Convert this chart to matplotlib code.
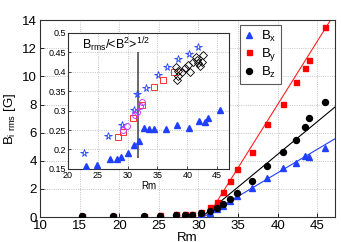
import numpy as np
import matplotlib
matplotlib.use("Agg")
import matplotlib.pyplot as plt
from matplotlib.ticker import FormatStrFormatter

plt.rcParams['font.family'] = ['Liberation Sans', 'DejaVu Sans']
plt.rcParams['mathtext.fontset'] = 'custom'
plt.rcParams['mathtext.rm'] = 'Liberation Sans'

# ---- main panel data ----
rm = [15.3, 19.2, 23.1, 25.1, 27.2, 28.3, 29.2, 30.3, 31.4, 32.3,
      33.1, 34.0, 34.9, 36.7, 38.6, 40.7, 42.3, 43.4, 43.9, 45.9]
bx = [0.03, 0.03, 0.05, 0.06, 0.10, 0.10, 0.12, 0.15, 0.30, 0.55,
      0.80, 1.12, 1.50, 2.05, 2.78, 3.52, 3.81, 4.34, 4.28, 4.93]
by = [0.05, 0.05, 0.10, 0.12, 0.20, 0.20, 0.24, 0.38, 0.70, 1.07,
      1.78, 2.53, 3.43, 4.64, 6.63, 8.03, 9.62, 10.60, 11.16, 13.50]
bz = [0.05, 0.05, 0.08, 0.10, 0.15, 0.15, 0.18, 0.26, 0.43, 0.62,
      0.90, 1.30, 1.73, 2.58, 3.60, 4.62, 5.48, 6.37, 7.04, 8.15]
# linear fits: onset Rm and slope
fit_onset = {'x': 30.6, 'y': 31.1, 'z': 30.4}
fit_slope = {'x': 0.335, 'y': 0.90, 'z': 0.465}

# ---- inset data ----
ins_tri_rm = [23.06, 24.85, 27.07, 28.19, 28.91, 30.13, 31.13, 31.97, 32.76,
              33.65, 34.48, 36.44, 38.23, 40.28, 41.96, 42.96, 43.51, 45.47]
ins_tri_v = [0.158, 0.160, 0.175, 0.175, 0.181, 0.190, 0.211, 0.222, 0.256,
             0.252, 0.254, 0.252, 0.262, 0.256, 0.273, 0.270, 0.281, 0.302]
ins_star_rm = [22.78, 26.79, 29.08, 31.09, 31.59, 33.01, 35.03, 36.66, 38.49, 40.28, 41.84]
ins_star_v = [0.190, 0.235, 0.263, 0.301, 0.344, 0.358, 0.392, 0.412, 0.432, 0.447, 0.465]
ins_sq_rm = [28.46, 29.16, 30.84, 32.39, 34.43, 36.00, 37.69]
ins_sq_v = [0.233, 0.245, 0.280, 0.314, 0.360, 0.379, 0.400]
ins_circ_rm = [29.20, 29.97, 31.25, 31.54, 32.09, 32.37]
ins_circ_v = [0.249, 0.261, 0.289, 0.297, 0.312, 0.321]
ins_dia_rm = [38.03, 38.36, 38.49, 38.28, 39.06, 39.62, 40.45, 40.17, 41.00,
              41.45, 41.84, 42.12, 42.68, 41.67, 42.41]
ins_dia_v = [0.413, 0.401, 0.388, 0.379, 0.400, 0.409, 0.400, 0.418, 0.426,
             0.439, 0.422, 0.415, 0.443, 0.430, 0.426]
rm_threshold = 31.7
threshold_span = (0.178, 0.452)

fig = plt.figure(figsize=(3.41, 2.42), dpi=100)
ax = fig.add_axes([0.117, 0.103, 0.865, 0.814])

xlim = (10, 47.2)
blue = '#2040ff'
for key, col in (('x', blue), ('y', '#ff2020'), ('z', 'black')):
    x0 = fit_onset[key]
    xx = np.array([x0, xlim[1]])
    ax.plot(xx, fit_slope[key] * (xx - x0), color=col, lw=0.8, zorder=2)

ax.plot(rm, bx, '^', color=blue, ms=4.2, mec=blue, label=r'B$_\mathregular{x}$', zorder=3)
ax.plot(rm, by, 's', color='#ff0000', ms=3.6, mec='#ff0000', label=r'B$_\mathregular{y}$', zorder=3)
ax.plot(rm, bz, 'o', color='black', ms=4.3, label=r'B$_\mathregular{z}$', zorder=4)

ax.set_xlim(*xlim)
ax.set_ylim(0, 14)
ax.set_xticks([10, 15, 20, 25, 30, 35, 40, 45])
ax.set_yticks(range(0, 15, 2))
ax.tick_params(direction='in', labelsize=9.5, length=3, width=0.6, pad=2)
ax.grid(True, ls=':', color='#b0b0b0', lw=0.6)
for s in ax.spines.values():
    s.set_linewidth(0.8)
    s.set_color('#303030')
ax.set_xlabel('Rm', fontsize=9.5, labelpad=0)
ax.set_ylabel(r'B$_\mathregular{i\ rms}$ [G]', fontsize=9.5, labelpad=3)

leg = ax.legend(loc='upper left', bbox_to_anchor=(0.678, 0.975), borderaxespad=0,
                fontsize=9.5, frameon=True, fancybox=False, edgecolor='#303030',
                handlelength=0.8, handletextpad=0.5, labelspacing=0.15,
                borderpad=0.3, markerscale=1.0)
leg.get_frame().set_linewidth(0.8)

# ---- inset ----
ins = fig.add_axes([0.199, 0.302, 0.473, 0.562])
ins.vlines(rm_threshold, threshold_span[0], threshold_span[1], color='#404040', lw=1.1, zorder=2)
ins.plot(ins_tri_rm, ins_tri_v, '^', color=blue, ms=3.8, mec=blue, zorder=3)
ins.plot(ins_star_rm, ins_star_v, '*', mfc='none', mec=blue, ms=5.5, mew=0.6, zorder=3)
ins.plot(ins_sq_rm, ins_sq_v, 's', mfc='none', mec='#ff3030', ms=4.0, mew=0.7, zorder=3)
ins.plot(ins_circ_rm, ins_circ_v, 'o', mfc='none', mec='#c040ff', ms=4.3, mew=0.7, zorder=3)
ins.plot(ins_dia_rm, ins_dia_v, 'D', mfc='none', mec='black', ms=3.6, mew=0.6, zorder=3)
ins.set_xlim(20, 47)
ins.set_ylim(0.15, 0.5)
ins.set_xticks([20, 25, 30, 35, 40, 45])
ins.set_yticks([0.15, 0.2, 0.25, 0.3, 0.35, 0.4, 0.45, 0.5])
ins.yaxis.set_major_formatter(FormatStrFormatter('%g'))
ins.tick_params(direction='in', labelsize=6.5, length=2, width=0.5, pad=1.5)
ins.grid(True, ls=':', color='#b0b0b0', lw=0.6)
for s in ins.spines.values():
    s.set_linewidth(0.8)
    s.set_color('#303030')
ins.set_xlabel('Rm', fontsize=7, labelpad=1)
ins.text(0.09, 0.88, r'B$_\mathregular{rms}$/<B$^\mathregular{2}$>$^\mathregular{1/2}$',
         transform=ins.transAxes, fontsize=9, va='baseline', ha='left')

fig.savefig('out.png', dpi=100)
